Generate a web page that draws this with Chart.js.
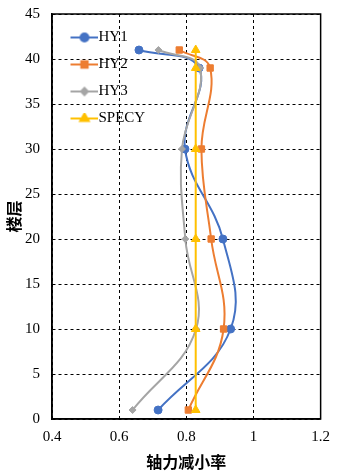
<!DOCTYPE html>
<html>
<head>
<meta charset="utf-8">
<script src="https://cdn.jsdelivr.net/npm/chart.js@4/dist/chart.umd.min.js"></script>
<style>
  html, body { margin: 0; padding: 0; background: #fff; }
  #wrap { width: 339px; height: 476px; }
</style>
</head>
<body>
<div id="wrap"><canvas id="reductionChart"></canvas></div>
<script>
// 楼层 (y) and 轴力减小率 (x) for each series
const floors = [1, 10, 20, 30, 39, 41];
const hy1 = [0.716, 0.932, 0.909, 0.796, 0.838, 0.659];
const hy2 = [0.806, 0.911, 0.874, 0.845, 0.871, 0.779];
const hy3 = [0.640, 0.829, 0.797, 0.787, 0.841, 0.717];
const specy = [0.828, 0.828, 0.828, 0.828, 0.828, 0.828];

const seriesNames = ["HY1", "HY2", "HY3", "SPECY"];
const xTickValues = [0.4, 0.6, 0.8, 1.0, 1.2];
const yTickValues = [0, 5, 10, 15, 20, 25, 30, 35, 40, 45];

const colors = ["#4472C4", "#ED7D31", "#A5A5A5", "#FFC000"];
const markers = [
  { style: "circle", radius: 4 },
  { style: "rect", radius: 4.5 },
  { style: "rectRot", radius: 3.5 },
  { style: "triangle", radius: 5 }
];

function toPoints(xs) {
  return xs.map((v, i) => ({ x: v, y: floors[i] }));
}

// small line + marker icon used in the legend
function legendIcon(color, marker) {
  const c = document.createElement("canvas");
  c.width = 40;
  c.height = 12;
  const g = c.getContext("2d");
  g.strokeStyle = color;
  g.lineWidth = 2;
  g.beginPath();
  g.moveTo(13, 6);
  g.lineTo(40, 6);
  g.stroke();
  g.fillStyle = color;
  Chart.helpers.drawPoint(g, {
    pointStyle: marker.style,
    radius: marker.radius,
    rotation: 0,
    borderWidth: 1
  }, 27, 6);
  g.fill();
  return c;
}

const seriesValues = [hy1, hy2, hy3, specy];

const datasets = seriesValues.map((vals, i) => ({
  label: seriesNames[i],
  data: toPoints(vals),
  showLine: true,
  tension: 0.4,
  borderColor: colors[i],
  backgroundColor: colors[i],
  borderWidth: 2,
  pointStyle: markers[i].style,
  pointRadius: markers[i].radius,
  pointBorderWidth: 1,
  order: seriesValues.length - i
}));

const icons = datasets.map((d, i) => legendIcon(colors[i], markers[i]));

const serif = "'Liberation Serif', 'Times New Roman', serif";
const cjk = "'Noto Sans CJK SC', sans-serif";

// dashed grid lines drawn by the scales
const gridDash = [3, 3];

new Chart(document.getElementById("reductionChart"), {
  type: "scatter",
  data: { datasets },
  options: {
    responsive: true,
    maintainAspectRatio: false,
    animation: false,
    layout: { padding: { top: 14, right: 17, left: 4, bottom: 4 } },
    plugins: {
      tooltip: { enabled: false },
      legend: {
        position: "chartArea",
        align: "start",
        title: {
          display: true,
          text: " ",
          color: "rgba(0,0,0,0)",
          font: { size: 10 },
          padding: 3
        },
        labels: {
          font: { family: serif, size: 15 },
          color: "#000",
          padding: 12,
          usePointStyle: true,
          pointStyleWidth: 27,
          generateLabels(chart) {
            return chart.data.datasets.map((d, i) => ({
              text: d.label,
              pointStyle: icons[i],
              fillStyle: colors[i],
              strokeStyle: colors[i],
              lineWidth: 0,
              hidden: false,
              datasetIndex: i,
              fontColor: "#000"
            }));
          }
        }
      }
    },
    scales: {
      x: {
        type: "linear",
        min: 0.4,
        max: 1.2,
        afterBuildTicks: s => { s.ticks = xTickValues.map(v => ({ value: v })); },
        afterFit: s => { s.height = 53; },
        ticks: {
          font: { family: serif, size: 15 },
          color: "#000",
          padding: 9,
          callback: v => String(+v.toFixed(1))
        },
        grid: {
          color: "#000",
          lineWidth: 1,
          drawTicks: false
        },
        border: { color: "#000", width: 1.5, dash: gridDash },
        title: {
          display: true,
          text: "轴力减小率",
          font: { family: cjk, size: 16, weight: "bold" },
          color: "#000",
          padding: { top: 2, bottom: 0 }
        }
      },
      y: {
        type: "linear",
        min: 0,
        max: 45,
        afterBuildTicks: s => { s.ticks = yTickValues.map(v => ({ value: v })); },
        afterFit: s => {
          s.width = 48;
          s.paddingTop = 0;
          s.paddingBottom = 0;
        },
        ticks: {
          font: { family: serif, size: 15 },
          color: "#000",
          padding: 12
        },
        grid: {
          color: "#000",
          lineWidth: 1,
          drawTicks: false
        },
        border: { color: "#000", width: 1.5, dash: gridDash },
        title: {
          display: true,
          text: "楼层",
          font: { family: cjk, size: 16, weight: "bold" },
          color: "#000",
          padding: { top: 0, bottom: 0 }
        }
      }
    }
  },
  plugins: [{
    // solid frame round the plot area
    id: "frame",
    afterDraw(chart) {
      const a = chart.chartArea;
      const g = chart.ctx;
      g.save();
      g.strokeStyle = "#000";
      g.lineWidth = 1.5;
      g.setLineDash([]);
      g.strokeRect(a.left, a.top, a.right - a.left, a.bottom - a.top);
      g.restore();
    }
  }]
});
</script>
</body>
</html>
